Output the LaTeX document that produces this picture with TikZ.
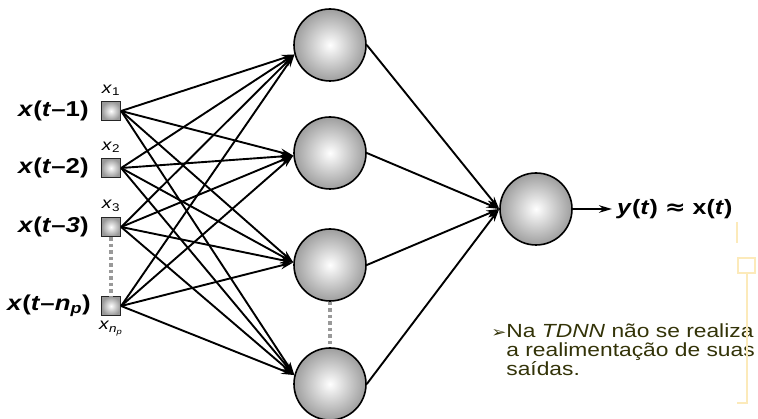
\documentclass[tikz,border=0pt]{standalone}
\usepackage{fontspec}
\setmainfont[FakeStretch=1.2]{Liberation Sans}
\newfontfamily\symfont[FakeStretch=1.2]{DejaVu Sans}
\usetikzlibrary{arrows.meta}

\definecolor{olivetext}{RGB}{51,51,8}
\definecolor{paleyellow}{RGB}{252,234,186}

\tikzset{
  neuron/.style={circle, draw=black, line width=1.6pt, minimum size=72pt,
    inner sep=0pt, inner color=white, outer color=black!38},
  inputbox/.style={rectangle, draw=black!85, line width=1.3pt, minimum size=19pt,
    inner sep=0pt, inner color=white, outer color=black!40},
  link/.style={line width=1.9pt, -{Stealth[length=13pt,width=7.5pt]}},
  gapline/.style={draw=black!40, line width=3.5pt, dash pattern=on 3.5pt off 3pt},
  signal/.style={font=\fontsize{21.5}{24}\selectfont\bfseries, inner sep=0pt},
  sublabel/.style={font=\fontsize{16}{18}\selectfont, inner sep=0pt},
  deco/.style={draw=paleyellow, line width=2pt}
}

\begin{document}
\begin{tikzpicture}[x=1pt, y=-1pt]
\useasboundingbox (0,0) rectangle (758,419);

% input taps
\node[inputbox] (in1) at (111,111) {};
\node[inputbox] (in2) at (111,168) {};
\node[inputbox] (in3) at (111,227) {};
\node[inputbox] (in4) at (111,306) {};

% hidden layer
\node[neuron] (h1) at (330,45) {};
\node[neuron] (h2) at (330,153) {};
\node[neuron] (h3) at (330,265) {};
\node[neuron] (h4) at (330,384) {};

% output neuron
\node[neuron] (out) at (536,209) {};

% omitted units
\draw[gapline] (in3.south) -- (in4.north);
\draw[gapline] (h3.south) -- (h4.north);

% input to hidden connections
\foreach \i in {1,2,3,4}{
  \draw[link] (in\i.east) -- (h1.195);
  \draw[link] (in\i.east) -- (h2.184);
  \draw[link] (in\i.east) -- (h3.176);
  \draw[link] (in\i.east) -- (h4.166);
}

% hidden to output connections
\foreach \j in {1,2,3,4}{
  \draw[link] (h\j.east) -- (out.west);
}

% output signal
\coordinate (yend) at (612,209);
\draw[link] (out.east) -- (yend);
\node[signal, font=\fontsize{20.8}{24}\selectfont\bfseries, anchor=west] (ylab) at (617,209)
  {\textit{y}(\textit{t}) {\symfont≈} x(\textit{t})};

% delayed input labels
\node[signal, anchor=east] (l1) at ([xshift=-12pt]in1.west) {\textit{x}(\textit{t}–1)};
\node[signal, anchor=east] (l2) at ([xshift=-12pt]in2.west) {\textit{x}(\textit{t}–2)};
\node[signal, anchor=east] (l3) at ([xshift=-12pt]in3.west) {\textit{x}(\textit{t}–\textit{3})};
\node[signal, anchor=east] (l4) at ([xshift=-10pt]in4.west)
  {\textit{x}(\textit{t}–\textit{n}\textsubscript{\textit{p}})};

% tap names
\node[sublabel, anchor=south] (s1) at ([yshift=5pt]in1.north) {\textit{x}\textsubscript{1}};
\node[sublabel, anchor=south] (s2) at ([yshift=5pt]in2.north) {\textit{x}\textsubscript{2}};
\node[sublabel, anchor=south] (s3) at ([yshift=5pt]in3.north) {\textit{x}\textsubscript{3}};
\node[sublabel, anchor=north] (s4) at ([yshift=-5pt]in4.south)
  {\textit{x}\textsubscript{\textit{n}\textsubscript{\textit{p}}}};

% note
\node[anchor=north east, align=left, text=olivetext, inner sep=0pt,
      font=\fontsize{19}{19}\selectfont] (note) at (755,324)
  {\makebox[15pt][l]{\symfont\fontsize{15}{19}\selectfont ➢}Na \textit{TDNN} não se realiza\\
   \hspace{15pt}a realimentação de suas\\
   \hspace{15pt}saídas.};

% template ornament
\draw[deco] (737,222) -- (737,243);
\draw[deco] (738,258) rectangle (755,273);
\draw[deco] (747,273) -- (747,403) -- (737,403);
\end{tikzpicture}
\end{document}
